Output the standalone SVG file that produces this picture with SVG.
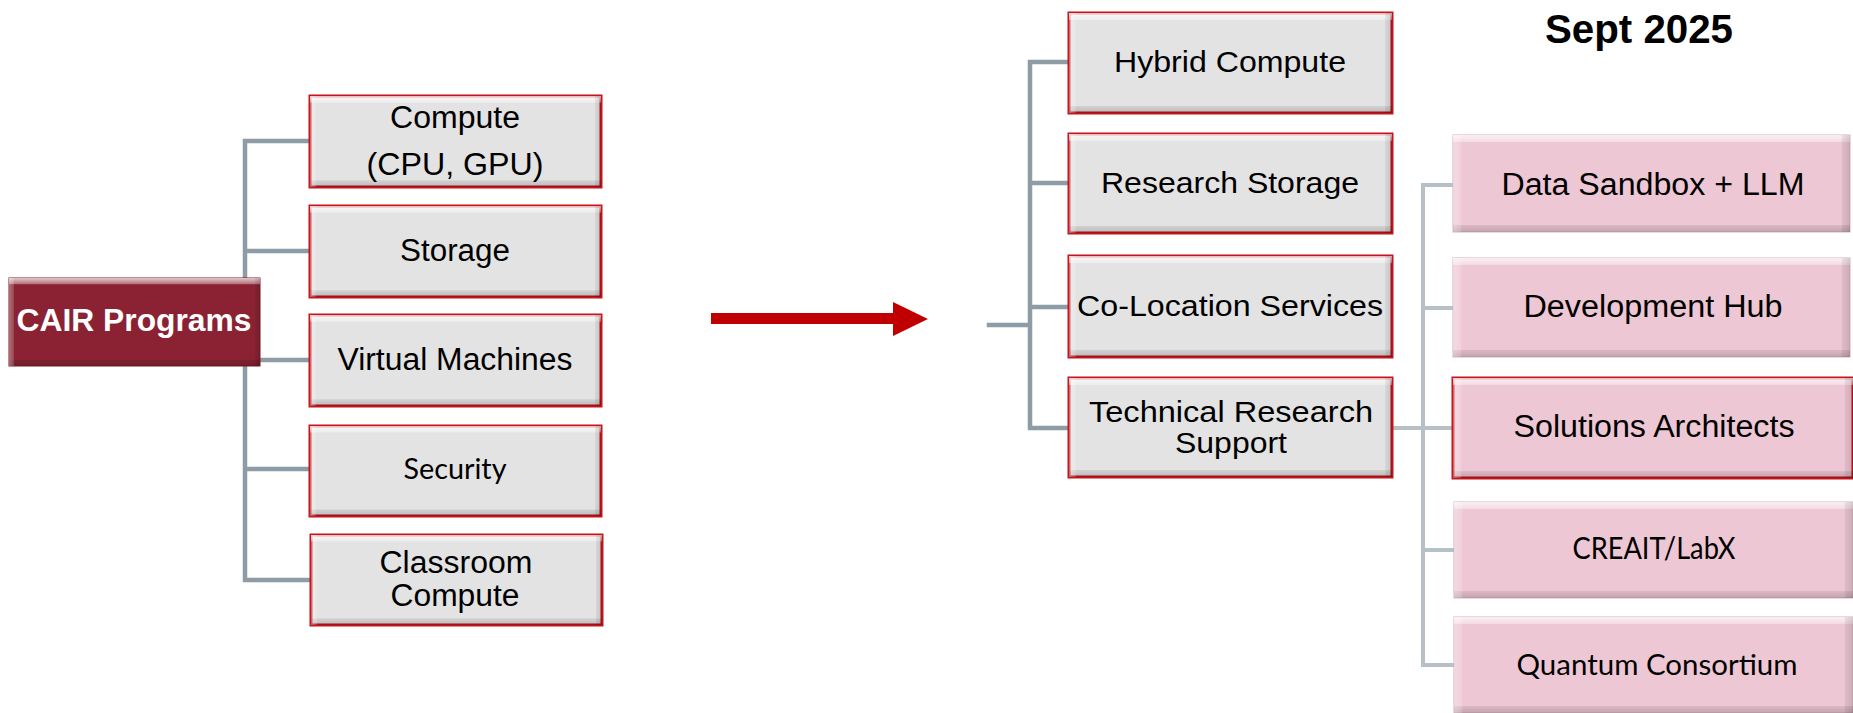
<svg xmlns="http://www.w3.org/2000/svg" width="1853" height="713" viewBox="0 0 1853 713">
<defs>
<style>
.conn{stroke:#8E9CA6;stroke-width:4.5;fill:none;stroke-linecap:square}
.conn2{stroke:#B6C1C7;stroke-width:4;fill:none;stroke-linecap:square}
.grey{fill:#E3E3E3;stroke:#C4141C;stroke-width:3}
.pink{fill:#EEC7D4;stroke:#D7B0BC;stroke-width:1}
.pinkred{fill:#EEC7D4;stroke:#C4141C;stroke-width:3}
.cair{fill:#8A2233;stroke:#7A1A29;stroke-width:1}
.bv{fill:url(#bevV);stroke:none}
.bh{fill:url(#bevH);stroke:none}
.t{font-family:"Liberation Sans",Arial,sans-serif;fill:#000;text-anchor:middle}
.c{font-family:Lato,"Open Sans",sans-serif;fill:#000;text-anchor:middle}
</style>
<linearGradient id="bevV" x1="0" y1="0" x2="0" y2="1">
<stop offset="0" stop-color="#fff" stop-opacity="0.75"/>
<stop offset="0.07" stop-color="#fff" stop-opacity="0.35"/>
<stop offset="0.075" stop-color="#fff" stop-opacity="0"/>
<stop offset="0.925" stop-color="#000" stop-opacity="0"/>
<stop offset="0.93" stop-color="#000" stop-opacity="0.08"/>
<stop offset="1" stop-color="#000" stop-opacity="0.18"/>
</linearGradient>
<linearGradient id="bevH" x1="0" y1="0" x2="1" y2="0">
<stop offset="0" stop-color="#fff" stop-opacity="0.35"/>
<stop offset="0.02" stop-color="#fff" stop-opacity="0.15"/>
<stop offset="0.022" stop-color="#fff" stop-opacity="0"/>
<stop offset="0.978" stop-color="#000" stop-opacity="0"/>
<stop offset="0.98" stop-color="#000" stop-opacity="0.06"/>
<stop offset="1" stop-color="#000" stop-opacity="0.14"/>
</linearGradient>
</defs>
<rect width="1853" height="713" fill="#fff"/>

<g id="connectors">
<path class="conn" d="M245 141 V580 M245 141 H310 M245 251 H310 M260 360 H310 M245 469 H310 M245 580 H310"/>
<path class="conn" d="M989 325 H1030 M1030 62 V428 M1030 62 H1069 M1030 183 H1069 M1030 307 H1069 M1030 428 H1069"/>
<path class="conn2" d="M1392 428 H1453 M1423 185 V665 M1423 185 H1453 M1423 308 H1453 M1423 550 H1453 M1423 665 H1453"/>
</g>

<g id="arrow">
<rect x="711" y="313" width="183" height="11" fill="#C00000"/>
<polygon points="893,302 928,319 893,336" fill="#C00000"/>
</g>

<g id="cair">
<rect class="cair" x="9" y="278" width="251" height="88"/>
<rect class="bv" x="9" y="278" width="251" height="88"/>
<rect class="bh" x="9" y="278" width="251" height="88"/>
<text x="134" y="331" font-family="Liberation Sans,Arial,sans-serif" font-weight="bold" font-size="31" fill="#fff" text-anchor="middle" textLength="235" lengthAdjust="spacingAndGlyphs">CAIR Programs</text>
</g>

<g id="compute">
<rect class="grey" x="310" y="96" width="291" height="91"/>
<rect class="bv" x="310" y="96" width="291" height="91"/>
<rect class="bh" x="310" y="96" width="291" height="91"/>
<text class="t" x="455" y="128" font-size="31" textLength="130" lengthAdjust="spacingAndGlyphs">Compute</text>
<text class="t" x="455" y="175" font-size="31" textLength="177" lengthAdjust="spacingAndGlyphs">(CPU, GPU)</text>
</g>
<g id="storage">
<rect class="grey" x="310" y="206" width="291" height="91"/>
<rect class="bv" x="310" y="206" width="291" height="91"/>
<rect class="bh" x="310" y="206" width="291" height="91"/>
<text class="t" x="455" y="261" font-size="31" textLength="110" lengthAdjust="spacingAndGlyphs">Storage</text>
</g>
<g id="vm">
<rect class="grey" x="310" y="315" width="291" height="91"/>
<rect class="bv" x="310" y="315" width="291" height="91"/>
<rect class="bh" x="310" y="315" width="291" height="91"/>
<text class="t" x="455" y="370" font-size="31" textLength="235" lengthAdjust="spacingAndGlyphs">Virtual Machines</text>
</g>
<g id="security">
<rect class="grey" x="310" y="426" width="291" height="90"/>
<rect class="bv" x="310" y="426" width="291" height="90"/>
<rect class="bh" x="310" y="426" width="291" height="90"/>
<text class="c" x="455" y="479" font-size="29" textLength="103" lengthAdjust="spacingAndGlyphs">Security</text>
</g>
<g id="classroom">
<rect class="grey" x="311" y="535" width="291" height="90"/>
<rect class="bv" x="311" y="535" width="291" height="90"/>
<rect class="bh" x="311" y="535" width="291" height="90"/>
<text class="t" x="456" y="573" font-size="31" textLength="153" lengthAdjust="spacingAndGlyphs">Classroom</text>
<text class="t" x="455" y="606" font-size="31" textLength="129" lengthAdjust="spacingAndGlyphs">Compute</text>
</g>

<g id="hybrid">
<rect class="grey" x="1069" y="13" width="323" height="100"/>
<rect class="bv" x="1069" y="13" width="323" height="100"/>
<rect class="bh" x="1069" y="13" width="323" height="100"/>
<text class="t" x="1230" y="72" font-size="30" textLength="232" lengthAdjust="spacingAndGlyphs">Hybrid Compute</text>
</g>
<g id="research-storage">
<rect class="grey" x="1069" y="134" width="323" height="99"/>
<rect class="bv" x="1069" y="134" width="323" height="99"/>
<rect class="bh" x="1069" y="134" width="323" height="99"/>
<text class="t" x="1230" y="193" font-size="30" textLength="258" lengthAdjust="spacingAndGlyphs">Research Storage</text>
</g>
<g id="colocation">
<rect class="grey" x="1069" y="256" width="323" height="101"/>
<rect class="bv" x="1069" y="256" width="323" height="101"/>
<rect class="bh" x="1069" y="256" width="323" height="101"/>
<text class="t" x="1230" y="316" font-size="30" textLength="306" lengthAdjust="spacingAndGlyphs">Co-Location Services</text>
</g>
<g id="technical">
<rect class="grey" x="1069" y="378" width="323" height="99"/>
<rect class="bv" x="1069" y="378" width="323" height="99"/>
<rect class="bh" x="1069" y="378" width="323" height="99"/>
<text class="t" x="1231" y="422" font-size="30" textLength="284" lengthAdjust="spacingAndGlyphs">Technical Research</text>
<text class="t" x="1231" y="453" font-size="30" textLength="112" lengthAdjust="spacingAndGlyphs">Support</text>
</g>

<g id="sandbox">
<rect class="pink" x="1453" y="135" width="397" height="97"/>
<rect class="bv" x="1453" y="135" width="397" height="97"/>
<rect class="bh" x="1453" y="135" width="397" height="97"/>
<text class="t" x="1653" y="195" font-size="31" textLength="303" lengthAdjust="spacingAndGlyphs">Data Sandbox + LLM</text>
</g>
<g id="devhub">
<rect class="pink" x="1453" y="258" width="397" height="99"/>
<rect class="bv" x="1453" y="258" width="397" height="99"/>
<rect class="bh" x="1453" y="258" width="397" height="99"/>
<text class="t" x="1653" y="317" font-size="31" textLength="259" lengthAdjust="spacingAndGlyphs">Development Hub</text>
</g>
<g id="solutions">
<rect class="pinkred" x="1453" y="378" width="400" height="100"/>
<rect class="bv" x="1453" y="378" width="400" height="100"/>
<rect class="bh" x="1453" y="378" width="400" height="100"/>
<text class="t" x="1654" y="437" font-size="31" textLength="281" lengthAdjust="spacingAndGlyphs">Solutions Architects</text>
</g>
<g id="creait">
<rect class="pink" x="1454" y="502" width="399" height="96"/>
<rect class="bv" x="1454" y="502" width="399" height="96"/>
<rect class="bh" x="1454" y="502" width="399" height="96"/>
<text class="c" x="1654" y="559" font-size="30" textLength="163" lengthAdjust="spacingAndGlyphs">CREAIT/LabX</text>
</g>
<g id="quantum">
<rect class="pink" x="1454" y="617" width="399" height="96"/>
<rect class="bv" x="1454" y="617" width="399" height="96"/>
<rect class="bh" x="1454" y="617" width="399" height="96"/>
<text class="c" x="1657" y="675" font-size="29" textLength="281" lengthAdjust="spacingAndGlyphs">Quantum Consortium</text>
</g>

<g id="date">
<text x="1639" y="43" font-family="Liberation Sans,Arial,sans-serif" font-weight="bold" font-size="41" fill="#000" text-anchor="middle" textLength="188" lengthAdjust="spacingAndGlyphs">Sept 2025</text>
</g>
</svg>
